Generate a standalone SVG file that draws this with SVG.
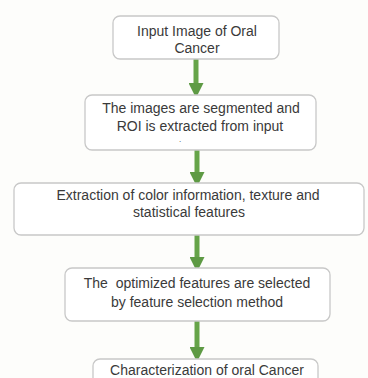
<svg xmlns="http://www.w3.org/2000/svg" width="368" height="378" viewBox="0 0 368 378">
<defs>
<style>
.box{fill:#ffffff;stroke:#c8c8c8;stroke-width:1.3}
.t{font-family:"Liberation Sans",Arial,sans-serif;font-size:14px;fill:#3a3a3a;text-anchor:middle}
.arr{stroke:#66a449;stroke-width:5;fill:none}
</style>
<marker id="ah" markerWidth="3" markerHeight="3" refX="1.2" refY="1.5" orient="auto" markerUnits="strokeWidth">
<path d="M0,0 L3,1.5 L0,3 z" fill="#5e9a44"/>
</marker>
</defs>
<rect width="368" height="378" fill="#fdfdfb"/>
<g id="connectors">
<line class="arr" x1="196" y1="59" x2="196" y2="89" marker-end="url(#ah)"/>
<line class="arr" x1="197" y1="150" x2="197" y2="178" marker-end="url(#ah)"/>
<line class="arr" x1="197" y1="235" x2="197" y2="263" marker-end="url(#ah)"/>
<line class="arr" x1="197" y1="321" x2="197" y2="353" marker-end="url(#ah)"/>
</g>
<g id="n1">
<rect class="box" x="113" y="16" width="166" height="43" rx="7"/>
<text class="t" x="197" y="36">Input Image of Oral</text>
<text class="t" x="197" y="53">Cancer</text>
</g>
<g id="n2">
<rect class="box" x="85" y="95" width="231" height="55" rx="7"/>
<text class="t" x="201" y="113">The images are segmented and</text>
<text class="t" x="200" y="131">ROI is extracted from input</text>
<text class="t" x="180" y="142" style="font-size:8px">.</text>
</g>
<g id="n3">
<rect class="box" x="14" y="183" width="350" height="52" rx="7"/>
<text class="t" x="188" y="200">Extraction of color information, texture and</text>
<text class="t" x="189" y="217">statistical features</text>
</g>
<g id="n4">
<rect class="box" x="65" y="268" width="265" height="53" rx="7"/>
<text class="t" x="197" y="288" style="white-space:pre">The  optimized features are selected</text>
<text class="t" x="197" y="307">by feature selection method</text>
</g>
<g id="n5">
<rect class="box" x="93" y="359" width="225" height="30" rx="7"/>
<text class="t" x="207" y="375">Characterization of oral Cancer</text>
</g>
</svg>
